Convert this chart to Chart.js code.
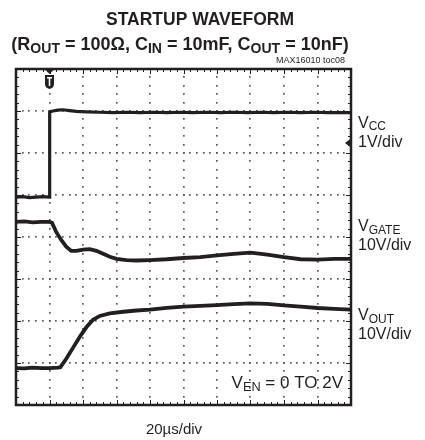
<!DOCTYPE html>
<html>
<head>
<meta charset="utf-8">
<script src="https://cdn.jsdelivr.net/npm/chart.js@4.4.1/dist/chart.umd.min.js"></script>
<style>
  html, body { margin: 0; padding: 0; background: #ffffff; }
  #wrap { width: 425px; height: 440px; position: relative; }
  canvas { display: block; }
</style>
</head>
<body>
<div id="wrap"><canvas id="c" width="425" height="440"></canvas></div>
<script>
// ---- Data (time in µs, 20 µs/div; trace level in screen divisions, 0 = bottom, 8 = top) ----
const xTicks = [0, 20, 40, 60, 80, 100, 120, 140, 160, 180, 200];
const yTicks = [0, 1, 2, 3, 4, 5, 6, 7, 8];

const vccTime = [0, 4, 8, 12, 16, 19.9, 20.1, 22, 25, 28, 32, 36, 42, 50, 58, 66, 74, 82, 90, 98, 106, 114, 122, 130, 138, 146, 154, 162, 170, 178, 186, 194, 200];
const vccDiv  = [4.95, 4.96, 4.94, 4.95, 4.96, 4.95, 6.98, 7.00, 7.02, 7.03, 7.01, 6.99, 6.98, 6.97, 6.96, 6.97, 6.96, 6.97, 6.96, 6.97, 6.96, 6.97, 6.96, 6.97, 6.96, 6.97, 6.96, 6.97, 6.96, 6.97, 6.96, 6.96, 6.96];

const gateTime = [0, 5, 10, 15, 20, 21.5, 24, 27, 30, 33, 36, 40, 44, 48, 52, 56, 60, 66, 72, 80, 90, 100, 110, 120, 130, 140, 150, 160, 170, 180, 190, 200];
const gateDiv  = [4.36, 4.37, 4.35, 4.36, 4.36, 4.34, 4.12, 3.93, 3.77, 3.67, 3.67, 3.70, 3.71, 3.67, 3.60, 3.53, 3.48, 3.45, 3.44, 3.45, 3.47, 3.50, 3.52, 3.56, 3.60, 3.63, 3.58, 3.52, 3.47, 3.46, 3.48, 3.48];

const outTime = [0, 5, 10, 15, 20, 25, 26.5, 30, 34, 38, 42, 46, 50, 56, 64, 72, 80, 90, 100, 110, 120, 130, 140, 150, 160, 170, 180, 190, 200];
const outDiv  = [0.88, 0.87, 0.89, 0.88, 0.88, 0.89, 0.90, 1.10, 1.36, 1.62, 1.85, 2.03, 2.12, 2.18, 2.22, 2.25, 2.27, 2.31, 2.34, 2.36, 2.38, 2.40, 2.42, 2.41, 2.37, 2.34, 2.31, 2.29, 2.27];

const triggerTime = 20;       // trigger position marker (µs)
const triggerLevelDiv = 6.24; // trigger level arrow (div)

const channelLabels = [
  { name: [["V",0],["CC",1]], scale: "1V/div", level: 6.6 },
  { name: [["V",0],["GATE",1]], scale: "10V/div", level: 4.14 },
  { name: [["V",0],["OUT",1]], scale: "10V/div", level: 2.02 }
];

function pts(t, v) { return t.map((x, i) => ({ x: x, y: v[i] })); }

const FONT = '"Liberation Sans", Arial, Helvetica, sans-serif';
const INK = '#231f20';

function drawRich(ctx, parts, x, y, size, weight, align, subScale) {
  const subSize = size * (subScale || 0.72);
  let w = 0;
  parts.forEach(p => {
    ctx.font = (weight || '') + ' ' + (p[1] ? subSize : size) + 'px ' + FONT;
    w += ctx.measureText(p[0]).width;
  });
  let cx = align === 'center' ? x - w / 2 : (align === 'right' ? x - w : x);
  ctx.textAlign = 'left';
  ctx.textBaseline = 'alphabetic';
  parts.forEach(p => {
    ctx.font = (weight || '') + ' ' + (p[1] ? subSize : size) + 'px ' + FONT;
    ctx.fillText(p[0], cx, y + (p[1] ? size * 0.16 : 0));
    cx += ctx.measureText(p[0]).width;
  });
}

const scopePlugin = {
  id: 'scope',
  beforeDatasetsDraw(chart) {
    const ctx = chart.ctx;
    const xs = chart.scales.x, ys = chart.scales.y;
    const a = chart.chartArea;
    ctx.save();
    ctx.fillStyle = '#5a5a5a';
    for (let k = 1; k < yTicks.length - 1; k++) {
      const py = Math.round(ys.getPixelForValue(yTicks[k]));
      for (let i = 1; i < (xTicks.length - 1) * 5; i++) {
        const v = xTicks[0] + i * (xTicks[1] - xTicks[0]) / 5;
        const px = xs.getPixelForValue(v);
        ctx.fillRect(Math.round(px) - 1, py - 1, 1.7, 1.7);
      }
    }
    for (let k = 1; k < xTicks.length - 1; k++) {
      const px = Math.round(xs.getPixelForValue(xTicks[k]));
      for (let j = 1; j < (yTicks.length - 1) * 5; j++) {
        const v = yTicks[0] + j * (yTicks[1] - yTicks[0]) / 5;
        const py = ys.getPixelForValue(v);
        ctx.fillRect(px - 1, Math.round(py) - 1, 1.7, 1.7);
      }
    }
    ctx.strokeStyle = INK;
    ctx.lineWidth = 1;
    for (let i = 1; i < (xTicks.length - 1) * 5; i++) {
      const v = xTicks[0] + i * (xTicks[1] - xTicks[0]) / 5;
      const px = Math.round(xs.getPixelForValue(v)) + 0.5;
      const len = (i % 5 === 0) ? 5 : 3;
      ctx.beginPath();
      ctx.moveTo(px, a.top); ctx.lineTo(px, a.top + len);
      ctx.moveTo(px, a.bottom); ctx.lineTo(px, a.bottom - len);
      ctx.stroke();
    }
    for (let j = 1; j < (yTicks.length - 1) * 5; j++) {
      const v = yTicks[0] + j * (yTicks[1] - yTicks[0]) / 5;
      const py = Math.round(ys.getPixelForValue(v)) + 0.5;
      const len = (j % 5 === 0) ? 5 : 3;
      ctx.beginPath();
      ctx.moveTo(a.left, py); ctx.lineTo(a.left + len, py);
      ctx.moveTo(a.right, py); ctx.lineTo(a.right - len, py);
      ctx.stroke();
    }
    ctx.restore();
  },
  afterDraw(chart) {
    const ctx = chart.ctx;
    const xs = chart.scales.x, ys = chart.scales.y;
    const a = chart.chartArea;
    ctx.save();
    ctx.strokeStyle = INK;
    ctx.lineWidth = 2.5;
    ctx.strokeRect(a.left, a.top, a.right - a.left, a.bottom - a.top);

    // trigger position marker
    const tx = xs.getPixelForValue(triggerTime);
    ctx.fillStyle = INK;
    ctx.beginPath();
    ctx.moveTo(tx - 4, a.top + 1); ctx.lineTo(tx + 4, a.top + 1); ctx.lineTo(tx, a.top + 5); ctx.closePath();
    ctx.fill();
    ctx.beginPath();
    ctx.moveTo(tx - 4.5, a.top + 6);
    ctx.lineTo(tx + 4.5, a.top + 6);
    ctx.lineTo(tx + 4.5, a.top + 15);
    ctx.quadraticCurveTo(tx + 4.5, a.top + 19, tx, a.top + 20);
    ctx.quadraticCurveTo(tx - 4.5, a.top + 19, tx - 4.5, a.top + 15);
    ctx.closePath();
    ctx.fill();
    ctx.fillStyle = '#ffffff';
    ctx.fillRect(tx - 2.5, a.top + 8, 5, 1.6);
    ctx.fillRect(tx - 0.8, a.top + 8, 1.6, 9);

    // trigger level arrow at right edge
    const ly = ys.getPixelForValue(triggerLevelDiv);
    ctx.fillStyle = INK;
    ctx.beginPath();
    ctx.moveTo(a.right - 6, ly); ctx.lineTo(a.right, ly - 4.5); ctx.lineTo(a.right, ly + 4.5); ctx.closePath();
    ctx.fill();

    // titles
    ctx.fillStyle = INK;
    ctx.textAlign = 'center';
    ctx.textBaseline = 'alphabetic';
    ctx.font = 'bold 17.5px ' + FONT;
    ctx.fillText('STARTUP WAVEFORM', 200, 25);
    drawRich(ctx, [['(R',0],['OUT',1],[' = 100\u03A9, C',0],['IN',1],[' = 10mF, C',0],['OUT',1],[' = 10nF)',0]], 180, 50, 18, 'bold', 'center', 0.78);
    ctx.font = '9px ' + FONT;
    ctx.textAlign = 'right';
    ctx.fillText('MAX16010 toc08', 345, 63);

    // channel labels
    channelLabels.forEach(c => {
      const py = ys.getPixelForValue(c.level);
      drawRich(ctx, c.name, a.right + 7, py, 16, '', 'left', 0.75);
      ctx.font = '16px ' + FONT;
      ctx.textAlign = 'left';
      ctx.fillText(c.scale, a.right + 7, py + 19);
    });

    // enable annotation
    drawRich(ctx, [['V',0],['EN',1],[' = 0 TO 2V',0]], a.right - 8, a.bottom - 17, 17, '', 'right', 0.75);

    // time base
    ctx.font = '15px ' + FONT;
    ctx.textAlign = 'center';
    ctx.fillText('20\u00B5s/div', 174, 434);
    ctx.restore();
  }
};

const traceStyle = { borderColor: INK, borderWidth: 3.8, pointRadius: 0, fill: false, tension: 0 };

new Chart(document.getElementById('c'), {
  type: 'line',
  data: {
    datasets: [
      Object.assign({ label: 'VCC', data: pts(vccTime, vccDiv) }, traceStyle, { borderWidth: 3.2 }),
      Object.assign({ label: 'VGATE', data: pts(gateTime, gateDiv) }, traceStyle),
      Object.assign({ label: 'VOUT', data: pts(outTime, outDiv) }, traceStyle)
    ]
  },
  options: {
    responsive: false,
    animation: false,
    events: [],
    layout: { padding: { left: 16, right: 74, top: 69, bottom: 35 } },
    scales: {
      x: { type: 'linear', min: xTicks[0], max: xTicks[xTicks.length - 1], display: false },
      y: { type: 'linear', min: yTicks[0], max: yTicks[yTicks.length - 1], display: false }
    },
    plugins: { legend: { display: false }, tooltip: { enabled: false }, title: { display: false } }
  },
  plugins: [scopePlugin]
});
</script>
</body>
</html>
